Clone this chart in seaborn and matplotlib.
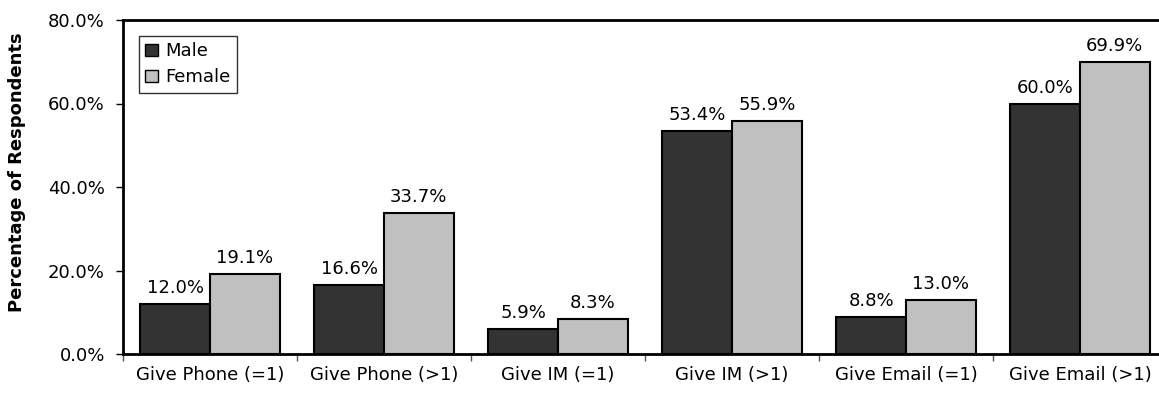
import matplotlib
matplotlib.use("Agg")
import matplotlib.pyplot as plt
import seaborn as sns
import pandas as pd
import numpy as np
from matplotlib.ticker import FuncFormatter, FixedLocator

categories = ["Give Phone (=1)", "Give Phone (>1)", "Give IM (=1)",
              "Give IM (>1)", "Give Email (=1)", "Give Email (>1)"]
male = [12.0, 16.6, 5.9, 53.4, 8.8, 60.0]
female = [19.1, 33.7, 8.3, 55.9, 13.0, 69.9]
groups = ["Male", "Female"]
colors = ["#333333", "#C0C0C0"]

df = pd.DataFrame({
    "category": categories * 2,
    "value": male + female,
    "group": [groups[0]] * len(categories) + [groups[1]] * len(categories),
})

sns.set_theme(style="white")
plt.rcParams["font.family"] = ["DejaVu Sans"]
plt.rcParams["text.color"] = "black"

W, H = 1159, 395
fig = plt.figure(figsize=(W / 100, H / 100), dpi=100)
# plot area runs a little past the right edge of the canvas
ax = fig.add_axes([123 / W, 41 / H, 1044 / W, 334 / H])

sns.barplot(data=df, x="category", y="value", hue="group", order=categories,
            hue_order=groups, palette=colors, width=0.8, edgecolor="black",
            linewidth=1.5, ax=ax, saturation=1)

for cont in ax.containers:
    labels = [f"{v:.1f}%" for v in cont.datavalues]
    ax.bar_label(cont, labels=labels, padding=5, fontsize=13, color="black")

ax.set_ylim(0, 80)
ax.set_xlim(-0.5, len(categories) - 0.5)
ax.yaxis.set_major_locator(FixedLocator([0, 20, 40, 60, 80]))
ax.yaxis.set_major_formatter(FuncFormatter(lambda v, p: f"{v:.1f}%"))
ax.tick_params(axis="y", which="major", length=5, width=1, direction="out",
               labelsize=13, colors="black", left=True, pad=8)
ax.tick_params(axis="x", which="major", length=0, labelsize=13, colors="black", pad=9)
ax.set_xticks(np.arange(-0.5, len(categories)), minor=True)
ax.tick_params(axis="x", which="minor", length=5, width=1, direction="out",
               bottom=True, color="#555555")

ax.set_xlabel("")
ax.set_ylabel("Percentage of Respondents", fontsize=13, fontweight="bold",
              color="black")
ax.yaxis.set_label_coords(-97 / 1044, 0.545)

for side in ["left", "top", "bottom"]:
    ax.spines[side].set_visible(True)
    ax.spines[side].set_color("black")
    ax.spines[side].set_linewidth(2)
ax.spines["right"].set_visible(False)

leg = ax.legend(loc="upper left", bbox_to_anchor=(16 / 1044, 1 - 16 / 334),
                borderaxespad=0, frameon=True,
                fancybox=False, edgecolor="black", fontsize=13,
                handlelength=0.7, handleheight=0.7, handletextpad=0.4,
                borderpad=0.35, labelspacing=0.45)
leg.get_frame().set_linewidth(1)
for t in leg.get_texts():
    t.set_color("black")
for h in leg.legend_handles:
    h.set_edgecolor("black")
    h.set_linewidth(1)

fig.savefig("out.png", dpi=100)
